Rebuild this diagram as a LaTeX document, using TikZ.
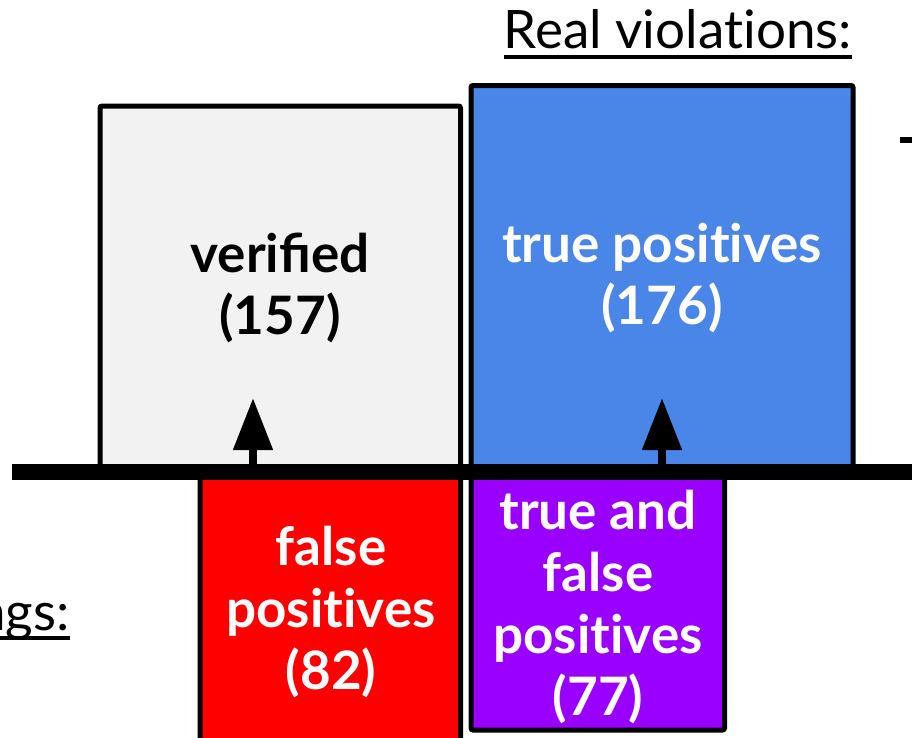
\documentclass[tikz,border=0pt]{standalone}
\usepackage{fontspec}
\setmainfont{Lato}[Ligatures=NoCommon]
\usetikzlibrary{arrows.meta}
\definecolor{boxgrey}{HTML}{F2F2F2}
\definecolor{boxblue}{HTML}{4A86E8}
\definecolor{boxred}{HTML}{FF0000}
\definecolor{boxpurple}{HTML}{9900FF}
\begin{document}
\begin{tikzpicture}[x=1pt,y=-1pt,
  region/.style={draw=black,line width=5pt,rounded corners=2pt},
  label/.style={font=\fontsize{53}{62}\selectfont\bfseries,align=center,inner sep=0pt},
  heading/.style={font=\fontsize{53}{60}\selectfont,inner sep=0pt},
  rule/.style={line width=4pt},
  raise/.style={line width=8pt,-{Triangle[width=38pt,length=52pt]}}]
\useasboundingbox (0,0) rectangle (912,737);
% upper regions
\draw[region,fill=boxgrey] (100,106) rectangle (460.5,468);
\draw[region,fill=boxblue] (471,85.5) rectangle (853,468);
% lower regions (run past the bottom edge / just above it)
\draw[region,fill=boxred] (200,474) rectangle (460.5,760);
\draw[region,fill=boxpurple] (471,474) rectangle (724.5,730);
% dividing bar
\fill[black] (12,464) rectangle (912,480);
% labels
\node[label,text=black] (verified) at (280,288) {veriﬁed\\(157)};
\node[label,text=white] (tp) at (662,278) {true positives\\(176)};
\node[label,text=white] (fp) at (331,612) {false\\positives\\(82)};
\node[label,text=white] (tfp) at (598,607) {true and\\false\\positives\\(77)};
% arrows from the bar up into the regions
\coordinate (a1) at (253,466);
\coordinate (a2) at (662,466);
\draw[raise] (a1) -- (253,398);
\draw[raise] (a2) -- (662,398);
% headings with heavy underlines
\node[heading,anchor=base east] (real) at (852,48) {Real violations:};
\draw[rule] (real.west |- 0,57) -- (real.east |- 0,57);
\node[heading,anchor=base west] (find) at (-24,630) {ngs:};
\draw[rule] (0,638) -- (find.east |- 0,638);
% clipped mark at the right edge
\fill[black] (900,137) rectangle (914,143);
\end{tikzpicture}
\end{document}
